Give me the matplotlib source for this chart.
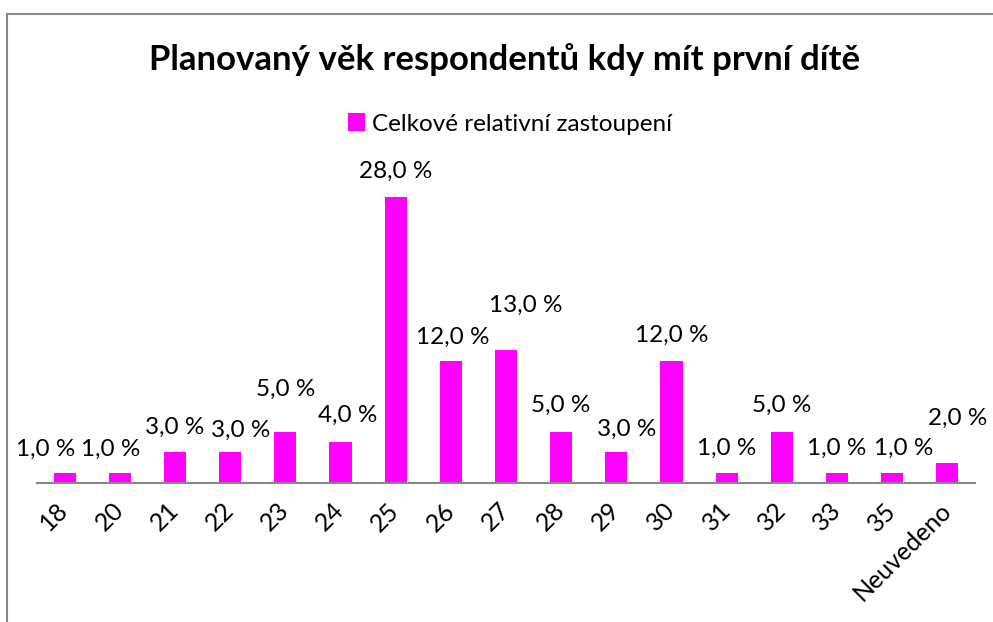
import numpy as np
import matplotlib.pyplot as plt
from matplotlib.patches import Rectangle

# data
vek = ['18', '20', '21', '22', '23', '24', '25', '26', '27', '28', '29', '30',
       '31', '32', '33', '35', 'Neuvedeno']
podil = [1, 1, 3, 3, 5, 4, 28, 12, 13, 5, 3, 12, 1, 5, 1, 1, 2]

# label placement (pixels): horizontal shift and gap above bar, as in the original
posun_x = [-19, -9, 0, 11, 0, 7, 0, 2, 20, 0, 10, 0, 0, 0, 0, 11, 10]
mezera = [17, 17, 19, 16, 36, 20, 20, 17, 39, 20, 17, 19, 18, 20, 18, 18, 38]

plt.rcParams['font.family'] = ['Lato', 'DejaVu Sans']

fig = plt.figure(figsize=(9.93, 6.22), dpi=100)
ax = fig.add_axes([37/993, 1-483/622, 938/993, 306/622])

x = np.arange(len(vek))
bars = ax.bar(x, podil, width=0.4, color='#FF00FF', label='Celkové relativní zastoupení')

px = 72 / 100
for xi, v, dx, dy in zip(x, podil, posun_x, mezera):
    ax.annotate(f'{v:.1f} %'.replace('.', ','), (xi, v), xytext=(dx * px, dy * px),
                textcoords='offset points', ha='center', va='baseline', fontsize=17.5)

ax.set_xlim(-0.5, len(vek) - 0.5)
ax.set_ylim(0, 30)
ax.set_xticks(x)
ax.set_xticklabels(vek, rotation=45, ha='right', va='center', rotation_mode='anchor', fontsize=18)
ax.tick_params(axis='x', length=0, pad=17)
ax.set_yticks([])
for s in ['left', 'right', 'top']:
    ax.spines[s].set_visible(False)
ax.spines['bottom'].set_color('#888888')
ax.spines['bottom'].set_linewidth(1.5)

fig.text(505/993, 1-60/622, 'Planovaný věk respondentů kdy mít první dítě',
         ha='center', va='center', fontsize=25, fontweight='bold')
fig.legend(handles=[bars], loc='center', bbox_to_anchor=(510/993, 1-124/622),
           frameon=False, fontsize=17.5, handlelength=0.7, handleheight=0.7,
           handletextpad=0.3)

# chart border (Excel frame)
fig.patches.append(Rectangle((7/993, -0.1), 1.2, 1.1 - 14/622, transform=fig.transFigure,
                             fill=False, edgecolor='#888888', linewidth=1.5))

fig.savefig('out.png', dpi=100)
